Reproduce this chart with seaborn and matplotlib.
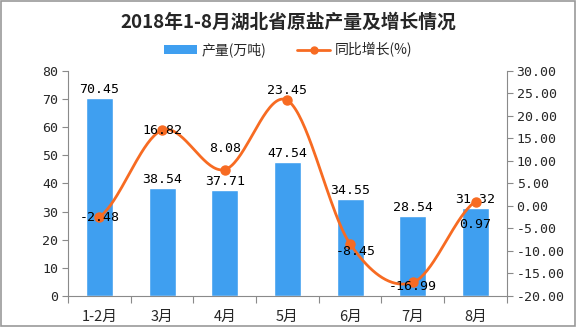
import numpy as np
import pandas as pd
import matplotlib
matplotlib.use('Agg')
import matplotlib.pyplot as plt
import seaborn as sns
from matplotlib.patches import Rectangle, Patch
from matplotlib.lines import Line2D

categories = ['1-2月', '3月', '4月', '5月', '6月', '7月', '8月']
output = [70.45, 38.54, 37.71, 47.54, 34.55, 28.54, 31.32]
growth = [-2.48, 16.82, 8.08, 23.45, -8.45, -16.99, 0.97]
left_ticks = [0, 10, 20, 30, 40, 50, 60, 70, 80]
right_ticks = [-20, -15, -10, -5, 0, 5, 10, 15, 20, 25, 30]
title = '2018年1-8月湖北省原盐产量及增长情况'
bar_name = '产量(万吨)'
line_name = '同比增长(%)'

BLUE = '#3f9ff0'
ORANGE = '#f76b22'
GRAY = '#8a8a8a'
NUMFONT = ['DejaVu Sans Mono', 'DejaVu Sans']

sns.set_theme(style='white')
plt.rcParams['font.family'] = ['Noto Sans CJK SC', 'DejaVu Sans']
plt.rcParams['axes.unicode_minus'] = False


def smooth(y, n=40):
    y = np.asarray(y, float)
    m = np.empty_like(y)
    m[1:-1] = (y[2:] - y[:-2]) / 2
    m[0] = (y[1] - y[0]) / 2
    m[-1] = (y[-1] - y[-2]) / 2
    xs, ys = [], []
    t = np.linspace(0, 1, n)
    h00 = 2 * t**3 - 3 * t**2 + 1
    h10 = t**3 - 2 * t**2 + t
    h01 = -2 * t**3 + 3 * t**2
    h11 = t**3 - t**2
    for i in range(len(y) - 1):
        ys.append(h00 * y[i] + h10 * m[i] + h01 * y[i + 1] + h11 * m[i + 1])
        xs.append(i + t)
    return np.concatenate(xs), np.concatenate(ys)


fig = plt.figure(figsize=(5.76, 3.27), dpi=100)
ax = fig.add_axes([0.118, 0.095, 0.762, 0.688])
df = pd.DataFrame({'cat': categories, 'val': output})
sns.barplot(data=df, x='cat', y='val', color=BLUE, saturation=1, width=0.43, ax=ax)
ax.set_xlim(-0.5, len(categories) - 0.5)
ax.set_ylim(left_ticks[0], left_ticks[-1])
ax.set_yticks(left_ticks)
ax.set_yticklabels([str(v) for v in left_ticks], family=NUMFONT, fontsize=9.5)
ax.set_xlabel('')
ax.set_ylabel('')
ax.set_xticks(np.arange(-0.5, len(categories)), minor=True)
ax.tick_params(axis='x', which='major', length=0, pad=10, labelsize=10.5)
ax.tick_params(axis='x', which='minor', length=5, width=0.8, color=GRAY, bottom=True, direction='out')
ax.tick_params(axis='y', length=4, width=0.8, color=GRAY, left=True, direction='out', pad=3)
for s in ['top', 'right']:
    ax.spines[s].set_visible(False)
for s in ['left', 'bottom']:
    ax.spines[s].set_color(GRAY)
    ax.spines[s].set_linewidth(0.8)

for i, v in enumerate(output):
    ax.annotate(f'{v:.2f}', (i, v), xytext=(0, 2), textcoords='offset pixels',
                ha='center', va='bottom', fontsize=9.5, family=NUMFONT, color='black')

ax2 = ax.twinx()
ax2.set_ylim(right_ticks[0], right_ticks[-1])
ax2.set_yticks(right_ticks)
ax2.set_yticklabels([f'{v:.2f}' for v in right_ticks], family=NUMFONT, fontsize=9.5)
ax2.tick_params(axis='y', length=4, width=0.8, color=GRAY, right=True, direction='out', pad=3)
for s in ['top', 'left', 'bottom']:
    ax2.spines[s].set_visible(False)
ax2.spines['right'].set_color(GRAY)
ax2.spines['right'].set_linewidth(0.8)
ax2.grid(False)
ax.grid(False)

sx, sy = smooth(growth)
sns.lineplot(x=sx, y=sy, ax=ax2, color=ORANGE, linewidth=2.0, sort=False, estimator=None)
ax2.plot(np.arange(len(growth)), growth, linestyle='none', marker='o', markersize=6.5, color=ORANGE)

offsets = [(0, 0), (0, 0), (0, 21), (0, 10), (6, -8), (0, -4), (0, -23)]
for i, v in enumerate(growth):
    dx, dy = offsets[i]
    ax2.annotate(f'{v:.2f}', (i, v), xytext=(dx, dy), textcoords='offset pixels',
                 ha='center', va='center', fontsize=9.5, family=NUMFONT, color='black', zorder=5)

fig.text(0.5, 1 - 22 / 327, title, ha='center', va='center', fontsize=13.5, fontweight='bold')
handles = [Patch(facecolor=BLUE, edgecolor='none'),
           Line2D([0], [0], color=ORANGE, linewidth=2.0, marker='o', markersize=5)]
fig.legend(handles, [bar_name, line_name], loc='center', bbox_to_anchor=(0.5, 1 - 50 / 327),
           ncol=2, frameon=False, fontsize=10, handlelength=2.4, handleheight=0.6,
           columnspacing=2.2, handletextpad=0.3)

fig.patches.append(Rectangle((0.001, 0.002), 0.997, 0.995, transform=fig.transFigure,
                             fill=False, edgecolor='#999999', linewidth=1.2))
fig.savefig('out.png', dpi=100)
